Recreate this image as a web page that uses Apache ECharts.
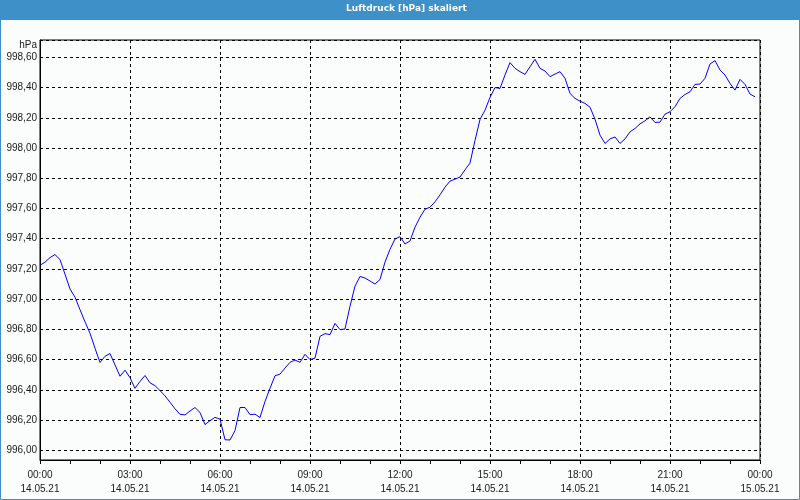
<!DOCTYPE html>
<html>
<head>
<meta charset="utf-8">
<script src="https://cdn.jsdelivr.net/npm/echarts@6/dist/echarts.min.js"></script>
<style>html,body{margin:0;padding:0;background:#fbfcfc;}#c{width:800px;height:500px;}</style>
</head>
<body>
<div id="c"></div>
<script>
// Luftdruck [hPa], 14.05.21 00:00 .. 23:50, one reading every 10 minutes
const startDate = '14.05.21';
const endDate = '15.05.21';
const stepMinutes = 10;
const pressure = [
  997.224, 997.245, 997.275, 997.295, 997.262, 997.165,
  997.067, 997.013, 996.930, 996.850, 996.774, 996.675,
  996.581, 996.622, 996.640, 996.565, 996.490, 996.530,
  996.480, 996.410, 996.455, 996.495, 996.446, 996.428,
  996.395, 996.360, 996.318, 996.275, 996.238, 996.234,
  996.260, 996.283, 996.250, 996.170, 996.196, 996.218,
  996.206, 996.070, 996.068, 996.130, 996.283, 996.283,
  996.236, 996.239, 996.217, 996.323, 996.410, 996.493,
  996.504, 996.544, 996.582, 996.597, 996.582, 996.635,
  996.600, 996.610, 996.754, 996.772, 996.765, 996.840,
  996.798, 996.803, 996.953, 997.086, 997.150, 997.140,
  997.120, 997.100, 997.130, 997.245, 997.330, 997.398,
  997.414, 997.365, 997.385, 997.476, 997.542, 997.595,
  997.608, 997.644, 997.690, 997.741, 997.781, 997.794,
  997.808, 997.856, 997.900, 998.050, 998.189, 998.250,
  998.335, 998.400, 998.394, 998.483, 998.565, 998.527,
  998.505, 998.487, 998.538, 998.587, 998.527, 998.509,
  998.472, 998.489, 998.505, 998.461, 998.361, 998.328,
  998.310, 998.295, 998.270, 998.190, 998.085, 998.030,
  998.060, 998.073, 998.030, 998.060, 998.107, 998.129,
  998.160, 998.180, 998.206, 998.169, 998.171, 998.224,
  998.240, 998.273, 998.328, 998.354, 998.372, 998.421,
  998.423, 998.461, 998.556, 998.578, 998.516, 998.483,
  998.427, 998.383, 998.454, 998.421, 998.357, 998.339
];
const xTickHours = [0, 3, 6, 9, 12, 15, 18, 21, 24];
const xTickLabels = ['00:00', '03:00', '06:00', '09:00', '12:00', '15:00', '18:00', '21:00', '00:00'];
const xTickDates = [startDate, startDate, startDate, startDate, startDate, startDate, startDate, startDate, endDate];

const seriesData = pressure.map((v, i) => [i * stepMinutes / 60, v]);

const chart = echarts.init(document.getElementById('c'), null, {renderer: 'canvas'});
const font = 'Liberation Sans, Arial, sans-serif';
const option = {
  backgroundColor: '#fbfcfc',
  animation: false,
  title: {
    text: 'Luftdruck [hPa] skaliert',
    left: 346,
    top: 0,
    padding: 0,
    textStyle: {color: '#ffffff', fontSize: 9, lineHeight: 17, fontWeight: 'bold', fontFamily: 'DejaVu Sans, sans-serif'}
  },
  graphic: [
    {type: 'rect', z: -1, shape: {x: 0, y: 0, width: 800, height: 20}, style: {fill: '#3d90c8'}},
    {type: 'rect', z: -1, shape: {x: 0.5, y: 0.5, width: 799, height: 499}, style: {fill: null, stroke: '#3d90c8', lineWidth: 1}}
  ],
  grid: {
    left: 40, top: 40, width: 720, height: 420,
    show: true, borderColor: '#000', borderWidth: 1, backgroundColor: 'transparent'
  },
  xAxis: {
    type: 'value', min: 0, max: 24, interval: 3,
    axisLine: {show: true, lineStyle: {color: '#000', width: 1}},
    axisTick: {show: true, length: 4, lineStyle: {color: '#000'}},
    minorTick: {show: true, splitNumber: 3, length: 4, lineStyle: {color: '#000'}},
    splitLine: {show: true, lineStyle: {color: '#000', type: [3, 3], width: 1}},
    axisLabel: {
      color: '#1a1a1a', fontSize: 10, fontFamily: font, lineHeight: 14, margin: 8,
      formatter: function (v) {
        const i = xTickHours.indexOf(v);
        return i < 0 ? '' : xTickLabels[i] + '\n' + xTickDates[i];
      }
    }
  },
  yAxis: {
    type: 'value', min: 995.9358, max: 998.7145, splitNumber: 14,
    name: 'hPa', nameLocation: 'end', nameGap: -5,
    nameTextStyle: {color: '#1a1a1a', fontSize: 10, fontFamily: font, align: 'right', verticalAlign: 'middle', padding: [0, 3, 0, 0]},
    axisLine: {show: true, lineStyle: {color: '#000', width: 1}},
    axisTick: {show: false},
    splitLine: {show: true, lineStyle: {color: '#000', type: [3, 3], width: 1}},
    axisLabel: {
      color: '#1a1a1a', fontSize: 10, fontFamily: font, margin: 3,
      showMinLabel: false, showMaxLabel: false,
      formatter: function (v) {
        const r = Math.round(v * 5) / 5;
        if (Math.abs(r - v) > 1e-6) return '';
        return r.toFixed(2).replace('.', ',');
      }
    }
  },
  series: [{
    type: 'line', data: seriesData, showSymbol: false, symbol: 'none',
    lineStyle: {color: '#0000ff', width: 1}, silent: true
  }]
};
chart.setOption(option);
</script>
</body>
</html>
